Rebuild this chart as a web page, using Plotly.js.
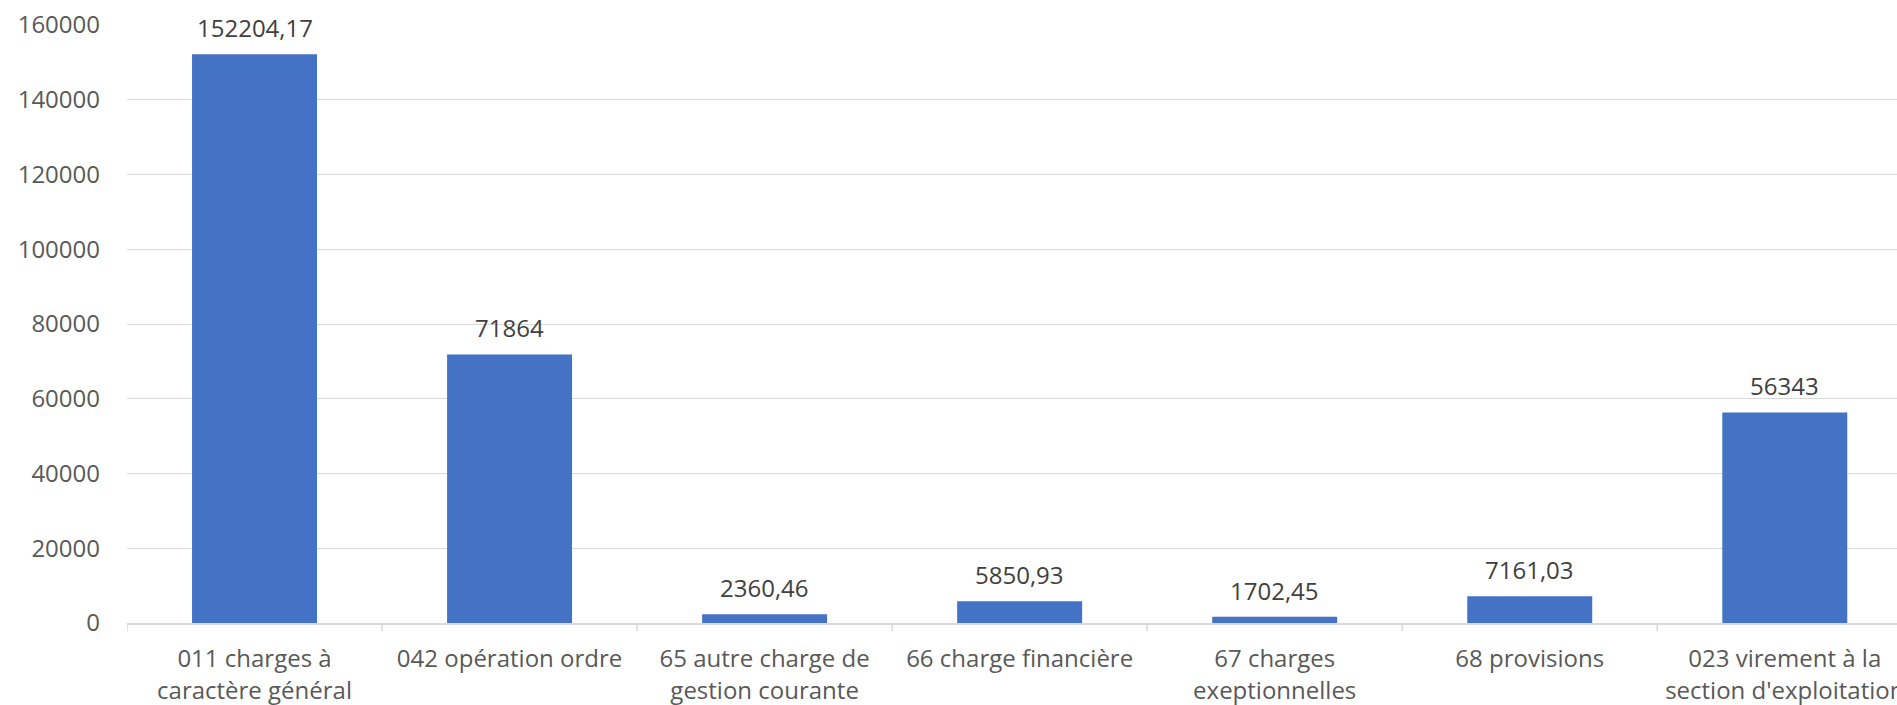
<!DOCTYPE html>
<html>
<head>
<meta charset="utf-8">
<script src="https://cdn.plot.ly/plotly-3.0.1.min.js"></script>
<style>html,body{margin:0;padding:0;background:#fff;overflow:hidden}#chart{width:1897px;height:705px}</style>
</head>
<body>
<div id="chart"></div>
<script>
const categories = [
  "011 charges à<br>caractère général",
  "042 opération ordre",
  "65 autre charge de<br>gestion courante",
  "66 charge financière",
  "67 charges<br>exeptionnelles",
  "68 provisions",
  "023 virement à la<br>section d'exploitation"
];
const values = [152204.17, 71864, 2360.46, 5850.93, 1702.45, 7161.03, 56343];
const valueLabels = ["152204,17", "71864", "2360,46", "5850,93", "1702,45", "7161,03", "56343"];
const yTickValues = [0, 20000, 40000, 60000, 80000, 100000, 120000, 140000, 160000];
const yTickLabels = ["0", "20000", "40000", "60000", "80000", "100000", "120000", "140000", "160000"];

const xIdx = categories.map((c, i) => i);

const trace = {
  type: "bar",
  x: xIdx,
  y: values,
  marker: {color: "#4472C4"},
  hoverinfo: "none"
};

const annotations = values.map((v, i) => ({
  x: i, y: v, xref: "x", yref: "y",
  text: valueLabels[i], showarrow: false,
  yanchor: "bottom", yshift: 8,
  font: {family: "Open Sans, sans-serif", size: 24, color: "#404040"}
}));

const layout = {
  width: 1897, height: 705,
  margin: {l: 127, r: 0, t: 25, b: 82},
  paper_bgcolor: "#ffffff", plot_bgcolor: "#ffffff",
  showlegend: false,
  bargap: 0.51,
  font: {family: "Open Sans, sans-serif", size: 24, color: "#595959"},
  xaxis: {
    type: "linear",
    range: [-0.5, 6.44],
    tickmode: "array",
    tickvals: xIdx,
    ticktext: categories,
    showgrid: false,
    zeroline: false,
    showline: true, linecolor: "#D9D9D9", linewidth: 1.5,
    ticks: "",
    ticklabelstandoff: 14,
    ticklabeloverflow: "allow",
    tickfont: {family: "Open Sans, sans-serif", size: 24, color: "#595959"},
    fixedrange: true
  },
  yaxis: {
    range: [0, 160000],
    tickmode: "array",
    tickvals: yTickValues,
    ticktext: yTickLabels,
    showgrid: true, gridcolor: "#D9D9D9", gridwidth: 1,
    zeroline: false,
    showline: false,
    ticks: "",
    ticklabelstandoff: 26,
    tickfont: {family: "Open Sans, sans-serif", size: 24, color: "#595959"},
    fixedrange: true
  },
  shapes: xIdx.concat([xIdx.length]).map(i => ({
    type: "line", xref: "x", yref: "paper",
    x0: i - 0.5, x1: i - 0.5, y0: 0, y1: -0.014,
    line: {color: "#D9D9D9", width: 1.5}
  })),
  annotations: annotations
};

Plotly.newPlot("chart", [trace], layout, {displayModeBar: false, staticPlot: true});
</script>
</body>
</html>
